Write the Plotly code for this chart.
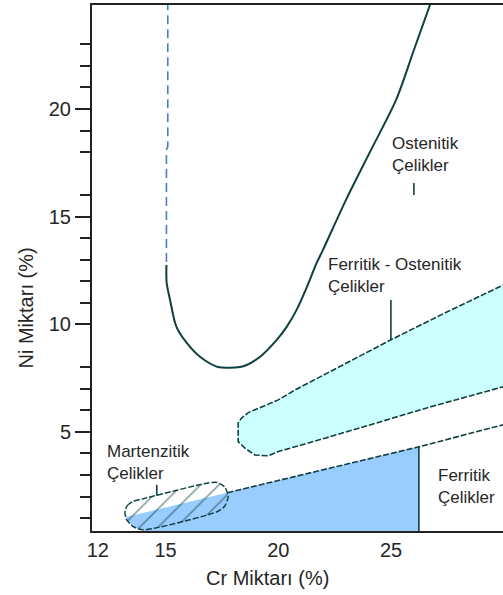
import plotly.graph_objects as go

# ---- Data (Cr %, Ni %) ----
aus_dash_cr = [15.10, 15.10, 15.04, 15.04]
aus_dash_ni = [25.0, 18.25, 18.10, 12.76]

aus_cr = [15.04, 15.05, 15.20, 15.42, 15.55, 15.94, 16.53, 17.32, 18.30, 18.60, 19.19,
          19.93, 20.37, 20.81, 21.27, 21.70, 21.98, 23.00, 24.11, 25.22, 26.01, 26.78]
aus_ni = [12.76, 11.92, 11.13, 10.07, 9.74, 9.14, 8.49, 8.02, 8.02, 8.11, 8.49,
          9.28, 9.88, 10.67, 11.74, 12.85, 13.46, 15.78, 18.10, 20.42, 22.74, 25.0]

duplex_cr = [30.5, 27.47, 24.99, 21.54, 20.74, 20.00, 19.55, 19.11, 18.67, 18.37, 18.22,
             18.22, 18.52, 18.96, 19.55, 20.00, 21.33, 22.07, 23.75, 26.72, 30.5]
duplex_ni = [12.09, 10.57, 9.28, 7.42, 6.95, 6.49, 6.30, 6.10, 5.90, 5.65, 5.42,
             4.55, 4.25, 3.93, 3.89, 4.09, 4.51, 4.71, 5.23, 6.16, 7.25]

ferrite_line_cr = [17.75, 26.23, 30.5]
ferrite_line_ni = [2.18, 4.31, 5.48]

ferrite_fill_cr = [13.25, 13.28, 13.57, 14.01, 14.20, 26.23, 26.23, 13.25]
ferrite_fill_ni = [1.05, 0.91, 0.60, 0.42, 0.20, 0.20, 4.31, 1.05]

ferrite_limit_cr = [26.23, 26.23]
ferrite_limit_ni = [4.31, 0.20]

mart_cr = [13.20, 13.30, 13.57, 14.01, 16.82, 17.27, 17.62, 17.78, 17.62, 17.25, 14.01, 13.57, 13.28, 13.20]
mart_ni = [1.25, 1.58, 1.78, 1.90, 2.62, 2.66, 2.45, 2.00, 1.55, 1.28, 0.45, 0.60, 0.91, 1.25]

# labels: (text, Cr, Ni)
label_text = ["Ostenitik<br>Çelikler", "Ferritik - Ostenitik<br>Çelikler",
              "Martenzitik<br>Çelikler", "Ferritik<br>Çelikler"]
label_cr = [24.95, 22.10, 12.30, 27.00]
label_ni = [17.87, 12.29, 3.59, 2.47]

pointer_cr = [[26.01, 26.01], [24.99, 24.99], [14.61, 14.61]]
pointer_ni = [[16.56, 16.01], [11.13, 9.28], [2.54, 2.04]]

x_ticks = [12, 15, 20, 25]
y_ticks = [5, 10, 15, 20]
y_minor = [1, 2, 3, 4, 6, 7, 8, 11, 12, 13, 14, 16, 18, 19, 21, 22, 23]

LINE = "#123f3f"
FONT = "Liberation Sans, Arial, sans-serif"
TXT = "#262626"

fig = go.Figure()

# Ferritic / martensitic blue region
fig.add_trace(go.Scatter(x=ferrite_fill_cr, y=ferrite_fill_ni, mode="lines", fill="toself",
                         fillcolor="#99ccff", line=dict(width=0), hoverinfo="skip"))
# Duplex region
fig.add_trace(go.Scatter(x=duplex_cr, y=duplex_ni, mode="lines", fill="toself",
                         fillcolor="#ccffff", line=dict(color=LINE, width=1.6, dash="6px,2px"),
                         hoverinfo="skip"))
# Martensitic oval (hatched)
fig.add_trace(go.Scatter(x=mart_cr, y=mart_ni, mode="lines", fill="toself",
                         fillcolor="rgba(0,0,0,0)",
                         fillpattern=dict(shape="/", fgcolor=LINE, bgcolor="rgba(0,0,0,0)",
                                          size=13, solidity=0.12),
                         line=dict(color=LINE, width=1.4, dash="6px,2px", shape="spline", smoothing=0.6),
                         hoverinfo="skip"))
# Ferrite boundary line
fig.add_trace(go.Scatter(x=ferrite_line_cr, y=ferrite_line_ni, mode="lines",
                         line=dict(color=LINE, width=1.6, dash="6px,2px"), hoverinfo="skip"))
fig.add_trace(go.Scatter(x=ferrite_limit_cr, y=ferrite_limit_ni, mode="lines",
                         line=dict(color=LINE, width=1.6), hoverinfo="skip"))
# Austenite boundary
fig.add_trace(go.Scatter(x=aus_dash_cr, y=aus_dash_ni, mode="lines",
                         line=dict(color="#4a7fbf", width=1.6, dash="9px,5px"), hoverinfo="skip"))
fig.add_trace(go.Scatter(x=aus_cr, y=aus_ni, mode="lines",
                         line=dict(color=LINE, width=2, shape="spline", smoothing=0.8), hoverinfo="skip"))
# Pointer ticks
for pc, pn in zip(pointer_cr, pointer_ni):
    fig.add_trace(go.Scatter(x=pc, y=pn, mode="lines", line=dict(color=LINE, width=1.6),
                             hoverinfo="skip"))

for t, cx, ny in zip(label_text, label_cr, label_ni):
    fig.add_annotation(x=cx, y=ny, xref="x", yref="y", text=t, showarrow=False,
                       xanchor="left", yanchor="middle", align="left",
                       font=dict(family=FONT, size=17, color=TXT))

fig.add_annotation(x=0.428, y=-0.089, xref="paper", yref="paper", text="Cr Miktarı (%)",
                   showarrow=False, xanchor="center", yanchor="middle",
                   font=dict(family=FONT, size=20, color=TXT))
fig.add_annotation(x=-0.163, y=0.423, xref="paper", yref="paper", text="Ni Miktarı (%)",
                   showarrow=False, xanchor="center", yanchor="middle", textangle=-90,
                   font=dict(family=FONT, size=20, color=TXT))

fig.update_layout(
    width=503, height=595,
    margin=dict(l=92, r=0, t=5, b=64),
    paper_bgcolor="white", plot_bgcolor="white",
    showlegend=False,
    xaxis=dict(range=[11.74, 29.96], tickvals=x_ticks, ticktext=[str(v) for v in x_ticks],
               ticks="", showline=True, linecolor="#222", linewidth=2, mirror=True,
               showgrid=False, zeroline=False,
               tickfont=dict(family=FONT, size=20, color=TXT)),
    yaxis=dict(range=[0.4, 24.83], tickvals=y_ticks, ticktext=[str(v) for v in y_ticks],
               ticks="outside", ticklen=15, tickwidth=1.5, tickcolor="#222",
               minor=dict(tickvals=y_minor, ticks="outside", ticklen=10, tickwidth=1.5, tickcolor="#222"),
               showline=True, linecolor="#222", linewidth=2, showgrid=False, zeroline=False,
               tickfont=dict(family=FONT, size=20, color=TXT)),
)

fig.write_html("out.html", config={"displayModeBar": False},
               post_script="document.body.style.margin='0';document.body.style.overflow='hidden';")
